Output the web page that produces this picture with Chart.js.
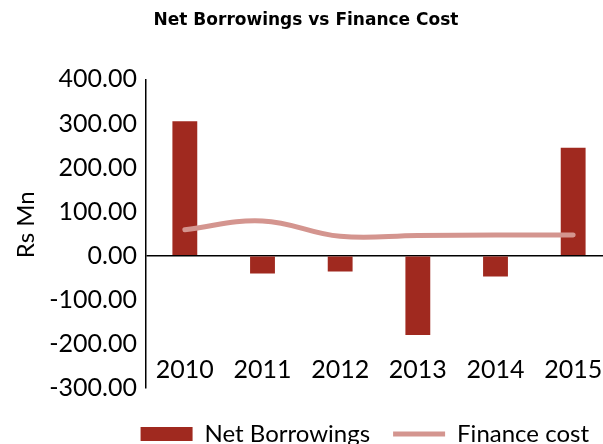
<!DOCTYPE html>
<html>
<head>
<meta charset="utf-8">
<script src="https://cdn.jsdelivr.net/npm/chart.js@4"></script>
<style>
  html, body { margin: 0; padding: 0; background: #fff; overflow: hidden; }
  #wrap { width: 612px; height: 460px; position: relative; }
</style>
</head>
<body>
<div id="wrap"><canvas id="finChart"></canvas></div>
<script>
// --- Datos ---
const years = ['2010', '2011', '2012', '2013', '2014', '2015'];
const netBorrowings = [305, -40, -36, -180, -47, 245];
const financeCost = [59, 79, 44, 46, 47, 47];
const yTicks = [-300, -200, -100, 0, 100, 200, 300, 400];
const yTitle = 'Rs Mn';

const fuente = 'Lato, "DejaVu Sans", sans-serif';

// Espacio extra entre el area del grafico y la leyenda
const legendGap = {
    id: 'legendGap',
    beforeInit(chart) {
        const fitOrig = chart.legend.fit;
        chart.legend.fit = function () {
            fitOrig.call(this);
            this.height += 15;
        };
    },
    afterLayout(chart) {
        chart.legend.top += 11;
        chart.legend.bottom += 11;
    }
};

// Titulo del eje Y, un poco por encima del centro
const yTitlePlugin = {
    id: 'yTitlePlugin',
    afterDraw(chart) {
        const { ctx, chartArea } = chart;
        ctx.save();
        ctx.translate(26, (chartArea.top + chartArea.bottom) / 2 - 9);
        ctx.rotate(-Math.PI / 2);
        ctx.font = '24px ' + fuente;
        ctx.fillStyle = '#000';
        ctx.textAlign = 'center';
        ctx.textBaseline = 'middle';
        ctx.fillText(yTitle, 0, 0);
        ctx.restore();
    }
};

const ctx = document.getElementById('finChart').getContext('2d');
new Chart(ctx, {
    data: {
        labels: years,
        datasets: [{
            type: 'line',
            label: 'Finance cost',
            data: financeCost,
            borderColor: '#d4958f',
            backgroundColor: '#d4958f',
            borderWidth: 5,
            borderCapStyle: 'round',
            tension: 0.4,
            pointRadius: 0,
            pointStyle: 'line',
            order: 1
        }, {
            type: 'bar',
            label: 'Net Borrowings',
            data: netBorrowings,
            backgroundColor: '#a0291f',
            borderWidth: 0,
            barPercentage: 0.32,
            categoryPercentage: 1,
            pointStyle: 'rect',
            order: 2
        }]
    },
    options: {
        responsive: true,
        maintainAspectRatio: false,
        animation: false,
        layout: { padding: 0 },
        plugins: {
            title: {
                display: true,
                text: 'Net Borrowings vs Finance Cost',
                color: '#000',
                font: { family: '"DejaVu Sans", sans-serif', size: 17, weight: 'bold' },
                padding: { top: 10, bottom: 49 }
            },
            legend: {
                position: 'bottom',
                align: 'end',
                reverse: true,
                labels: {
                    color: '#000',
                    font: { family: fuente, size: 24 },
                    usePointStyle: true,
                    pointStyleWidth: 52,
                    boxWidth: 52,
                    boxHeight: 14,
                    padding: 23
                }
            },
            tooltip: { enabled: false }
        },
        scales: {
            x: {
                position: { y: -200 },
                grid: { display: false },
                border: { display: false },
                ticks: { color: '#000', font: { family: fuente, size: 25 }, padding: 3 }
            },
            y: {
                min: -300,
                max: 400,
                afterBuildTicks: scale => { scale.ticks = yTicks.map(v => ({ value: v })); },
                afterFit: scale => { scale.width = 146; },
                border: { display: true, color: '#000', width: 1.5 },
                grid: {
                    drawTicks: false,
                    color: c => c.tick && c.tick.value === 0 ? '#000' : 'rgba(0,0,0,0)',
                    lineWidth: 1.5
                },
                ticks: {
                    color: '#000',
                    padding: 9,
                    font: { family: fuente, size: 25 },
                    callback: v => Number(v).toFixed(2)
                }
            }
        }
    },
    plugins: [legendGap, yTitlePlugin]
});
</script>
</body>
</html>
